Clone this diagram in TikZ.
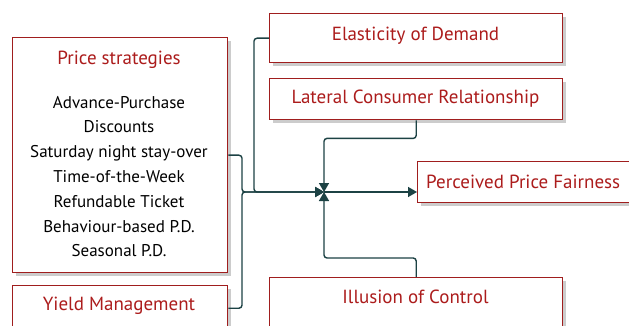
\documentclass[tikz,border=0pt]{standalone}
\usepackage{fontspec}
\setmainfont{PT Sans}
\usetikzlibrary{shadows,arrows.meta}
\definecolor{boxred}{RGB}{160,30,30}
\definecolor{txtred}{RGB}{172,28,28}
\definecolor{linec}{RGB}{28,66,68}
\begin{document}
\begin{tikzpicture}[x=1pt,y=-1pt,
  boxn/.style={draw=boxred, line width=1.4pt, fill=white,
    drop shadow={shadow xshift=3pt,shadow yshift=-3pt,opacity=0.4},
    inner sep=0pt, anchor=north west},
  rtxt/.style={text=txtred, font=\fontsize{19}{22}\selectfont, inner sep=0pt},
  ltxt/.style={text=black, font=\fontsize{17}{24.8}\selectfont, align=center, inner sep=0pt},
  conn/.style={draw=linec, line width=1.4pt, rounded corners=3pt},
  arr/.style={conn, -{Triangle[length=9pt,width=10pt]}}]
\clip (0,0) rectangle (629,326);
\fill[white] (0,0) rectangle (629,326);
% boxes
\node[boxn, minimum width=215, minimum height=235] (ps) at (12,37) {};
\node[rtxt] (pst) at (119,60) {Price strategies};
\node[ltxt] (psl) at (119,176.5) {Advance-Purchase\\Discounts\\Saturday night stay-over\\Time-of-the-Week\\Refundable Ticket\\Behaviour-based P.D.\\Seasonal P.D.};
\node[boxn, minimum width=215, minimum height=45] (ym) at (12,285) {};
\node[rtxt] (ymt) at (119,306) {Yield Management};
\node[boxn, minimum width=293, minimum height=49] (ed) at (269,13) {};
\node[rtxt] (edt) at (415.5,36) {Elasticity of Demand};
\node[boxn, minimum width=293, minimum height=41] (lc) at (269,78) {};
\node[rtxt] (lct) at (415.5,99) {Lateral Consumer Relationship};
\node[boxn, minimum width=240, minimum height=41] (pp) at (417,161) {};
\node[rtxt, anchor=west] (ppt) at (426,182) {Perceived Price Fairness};
\node[boxn, minimum width=293, minimum height=55] (ic) at (269,277) {};
\node[rtxt] (ict) at (415.5,297) {Illusion of Control};
% connectors
\coordinate (j) at (242,192);
\coordinate (k) at (254,192);
\coordinate (c) at (324,192);
\draw[arr] (ps.east) -| (j) -- (c);
\draw[arr] (ym.east) -| (j) -- (c);
\draw[arr] (ed.west) -| (k) -- (c);
\draw[arr] (lc.south) -- ++(0,18) -| (c);
\draw[arr] (ic.north) -- ++(0,-19) -| (c);
\draw[arr] (c) -- (pp.west |- c);
\end{tikzpicture}
\end{document}
